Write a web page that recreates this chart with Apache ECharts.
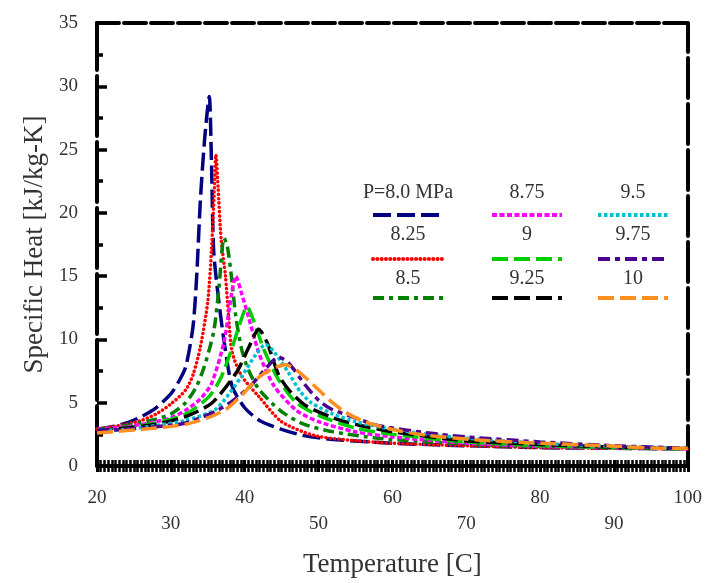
<!DOCTYPE html>
<html>
<head>
<meta charset="utf-8">
<script src="https://cdn.jsdelivr.net/npm/echarts@6/dist/echarts.min.js"></script>
<style>html,body{margin:0;padding:0;background:#fff}#c{width:705px;height:583px}</style>
</head>
<body>
<div id="c"></div>
<script>
// ---- data ----
const seriesNames = ['P=8.0 MPa', '8.25', '8.5', '8.75', '9', '9.25', '9.5', '9.75', '10'];
const xTicks = [20, 30, 40, 50, 60, 70, 80, 90, 100];
const yTicks = [0, 5, 10, 15, 20, 25, 30, 35];

const t80  = [20, 22, 24, 26, 28, 30, 31, 32, 33, 33.5, 34, 34.6, 35.2, 35.5, 35.8, 36.5, 37.3, 38.3, 40, 42, 45, 48, 52, 60, 70, 80, 90, 100];
const cp80 = [2.9, 3.1, 3.4, 3.9, 4.6, 5.7, 6.6, 7.8, 11, 15, 21, 26, 29.2, 24, 17, 13, 9.5, 6.3, 4.6, 3.6, 2.9, 2.4, 2.1, 1.8, 1.6, 1.45, 1.4, 1.35];

const t825  = [20, 22, 24, 26, 28, 30, 32, 33, 34, 35, 35.5, 35.9, 36.1, 36.4, 36.8, 37.4, 37.8, 38.3, 39.6, 41.9, 45, 49.5, 55, 60, 70, 80, 90, 100];
const cp825 = [2.9, 3.1, 3.3, 3.6, 4.1, 4.9, 6.0, 7.2, 9.4, 13, 17, 22, 24.6, 22, 18, 15, 12, 9.0, 7.1, 5.5, 3.5, 2.4, 2.0, 1.8, 1.6, 1.45, 1.4, 1.35];

const t85  = [20, 24, 28, 30, 32, 33.4, 34.5, 35.8, 36.5, 37.2, 37.6, 38.1, 38.8, 39.6, 40.5, 42, 45, 48, 52, 58, 65, 75, 85, 100];
const cp85 = [2.9, 3.2, 3.7, 4.1, 5.0, 6.2, 7.8, 10.6, 14, 18, 17.5, 15.5, 11.8, 9.2, 7.6, 6.0, 4.3, 3.3, 2.7, 2.2, 1.9, 1.6, 1.5, 1.35];

const t875  = [20, 24, 28, 30, 32, 34, 35.5, 37.2, 38.2, 38.8, 39.5, 40.5, 42, 44, 47, 50, 55, 60, 70, 80, 90, 100];
const cp875 = [2.9, 3.1, 3.5, 3.8, 4.4, 5.3, 6.5, 9.8, 13.5, 15.0, 13.8, 11.8, 8.8, 6.3, 4.4, 3.5, 2.7, 2.3, 1.8, 1.55, 1.45, 1.35];

const t90  = [20, 24, 28, 32, 35.2, 36.8, 38.1, 39.5, 40.3, 41.2, 42.6, 44.6, 47, 50, 55, 60, 70, 80, 90, 100];
const cp90 = [2.8, 3.0, 3.4, 4.1, 5.5, 7.0, 9.0, 11.5, 12.6, 11.5, 9.2, 6.8, 5.0, 4.0, 3.0, 2.5, 1.9, 1.6, 1.45, 1.35];

const t925  = [20, 24, 28, 32, 35.6, 38.9, 40.5, 41.9, 43, 44.6, 46, 48.2, 52, 55, 60, 70, 80, 90, 100];
const cp925 = [2.8, 3.0, 3.3, 3.9, 5.0, 7.4, 9.3, 10.8, 9.8, 7.2, 6.0, 4.8, 3.8, 3.3, 2.7, 2.0, 1.7, 1.5, 1.4];

const t95  = [20, 24, 28, 32, 36.1, 39.6, 41.5, 42.8, 44, 45.9, 47.5, 49, 52, 55, 60, 65, 70, 80, 90, 100];
const cp95 = [2.8, 2.9, 3.2, 3.6, 4.5, 7.1, 8.8, 9.6, 9.0, 7.4, 5.9, 5.0, 4.1, 3.5, 2.9, 2.5, 2.2, 1.8, 1.55, 1.4];

const t975  = [20, 24, 28, 32, 36, 38.5, 40.9, 43, 44.6, 46, 48.2, 50, 51.7, 55, 58, 65, 70, 80, 90, 100];
const cp975 = [2.8, 2.9, 3.1, 3.4, 4.3, 5.2, 6.4, 7.8, 8.6, 8.1, 6.4, 5.2, 4.5, 3.8, 3.2, 2.6, 2.3, 1.9, 1.6, 1.4];

const t100  = [20, 24, 28, 32, 35, 37.5, 39.6, 41.9, 43.5, 45.5, 47.2, 49.5, 51.7, 53.5, 56.2, 60.7, 65, 71.8, 80, 89, 96.5, 100];
const cp100 = [2.6, 2.8, 3.0, 3.3, 3.8, 4.5, 5.6, 7.0, 7.6, 8.0, 7.5, 6.3, 5.1, 4.3, 3.5, 2.8, 2.4, 2.05, 1.8, 1.6, 1.4, 1.4];

// ---- styles ----
const tempArrays = [t80, t825, t85, t875, t90, t925, t95, t975, t100];
const cpArrays = [cp80, cp825, cp85, cp875, cp90, cp925, cp95, cp975, cp100];
const colors = ['#000080', '#ff0000', '#008000', '#ff00ff', '#00cc00', '#000000', '#00c0d0', '#4b0090', '#ff9020'];
const dashes = [[18, 6], [0.1, 4.2], [11, 5, 4, 5], [5, 2.5], [16, 6], [16, 6], [3.5, 2.5], [12, 5, 5, 5], [16, 6]];
const caps = ['butt', 'round', 'butt', 'butt', 'butt', 'butt', 'butt', 'butt', 'butt'];

const serif = '"Liberation Serif", "DejaVu Serif", serif';

const series = seriesNames.map((n, i) => ({
  name: n,
  type: 'line',
  xAxisIndex: 0,
  yAxisIndex: 0,
  showSymbol: false,
  smooth: 0.25,
  data: tempArrays[i].map((t, j) => [t, cpArrays[i][j]]),
  lineStyle: { color: colors[i], width: 3.5, type: dashes[i], cap: caps[i] },
  itemStyle: { color: colors[i] },
  z: 2 + i
}));

// legend drawn as text above a line sample, 3 columns x 3 rows
const colX = [408, 527, 633];
const textY = [193, 235, 279];
const lineY = [215, 259, 298];
const graphics = [];
seriesNames.forEach((n, i) => {
  const c = Math.floor(i / 3), r = i % 3;
  graphics.push({
    type: 'text', x: colX[c], y: textY[r], z: 100,
    style: { text: n, fontSize: 20, fontFamily: serif, fill: '#333', align: 'center', verticalAlign: 'middle' }
  });
  graphics.push({
    type: 'line', z: 100,
    shape: { x1: colX[c] - 35, y1: lineY[r], x2: colX[c] + 35, y2: lineY[r] },
    style: { stroke: colors[i], lineWidth: 4, lineDash: dashes[i], lineCap: caps[i] }
  });
});

const chart = echarts.init(document.getElementById('c'), null, { renderer: 'canvas' });
chart.setOption({
  backgroundColor: '#ffffff',
  animation: false,
  grid: { left: 97, right: 12, top: 23, bottom: 117, containLabel: false },
  xAxis: [
    {
      type: 'value', min: xTicks[0], max: xTicks[xTicks.length - 1], interval: 10, position: 'bottom',
      axisLine: { show: true, lineStyle: { color: '#000', width: 4 } },
      axisTick: { show: true, inside: false, length: 6, lineStyle: { color: '#000', width: 3 } },
      minorTick: { show: true, splitNumber: 20, length: 6, lineStyle: { color: '#000', width: 2.5 } },
      splitLine: { show: false },
      axisLabel: {
        formatter: v => (Math.round(v / 10) % 2 === 1 ? '\n' + v : '' + v),
        fontFamily: serif, fontSize: 19, color: '#333', margin: 19, lineHeight: 26
      },
      name: 'Temperature [C]', nameLocation: 'middle', nameGap: 85,
      nameTextStyle: { fontFamily: serif, fontSize: 27, color: '#333' }
    },
    {
      type: 'value', min: xTicks[0], max: xTicks[xTicks.length - 1], interval: 10, position: 'bottom',
      axisLine: { show: false },
      axisTick: { show: true, inside: true, length: 6, lineStyle: { color: '#000', width: 3 } },
      minorTick: { show: true, splitNumber: 20, length: 6, lineStyle: { color: '#000', width: 2.5 } },
      splitLine: { show: false },
      axisLabel: { show: false }
    },
    {
      type: 'value', min: xTicks[0], max: xTicks[xTicks.length - 1], position: 'top',
      axisLine: { show: true, lineStyle: { color: '#000', width: 4, type: [22, 5] } },
      axisTick: { show: false }, axisLabel: { show: false }, splitLine: { show: false }
    }
  ],
  yAxis: [
    {
      type: 'value', min: yTicks[0], max: yTicks[yTicks.length - 1], interval: 5, position: 'left',
      axisLine: { show: true, lineStyle: { color: '#000', width: 4, type: [60, 6] } },
      axisTick: { show: true, inside: true, length: 10, lineStyle: { color: '#000', width: 3.5 } },
      minorTick: { show: true, splitNumber: 2, length: 6, lineStyle: { color: '#000', width: 3.5 } },
      splitLine: { show: false },
      axisLabel: { fontFamily: serif, fontSize: 19, color: '#333', margin: 19 },
      name: 'Specific Heat [kJ/kg-K]', nameLocation: 'middle', nameGap: 46,
      nameTextStyle: { fontFamily: serif, fontSize: 27, color: '#333' }
    },
    {
      type: 'value', min: yTicks[0], max: yTicks[yTicks.length - 1], position: 'right',
      axisLine: { show: true, lineStyle: { color: '#000', width: 4, type: [40, 6] } },
      axisTick: { show: false }, axisLabel: { show: false }, splitLine: { show: false }
    }
  ],
  series: series,
  graphic: graphics
});
</script>
</body>
</html>
